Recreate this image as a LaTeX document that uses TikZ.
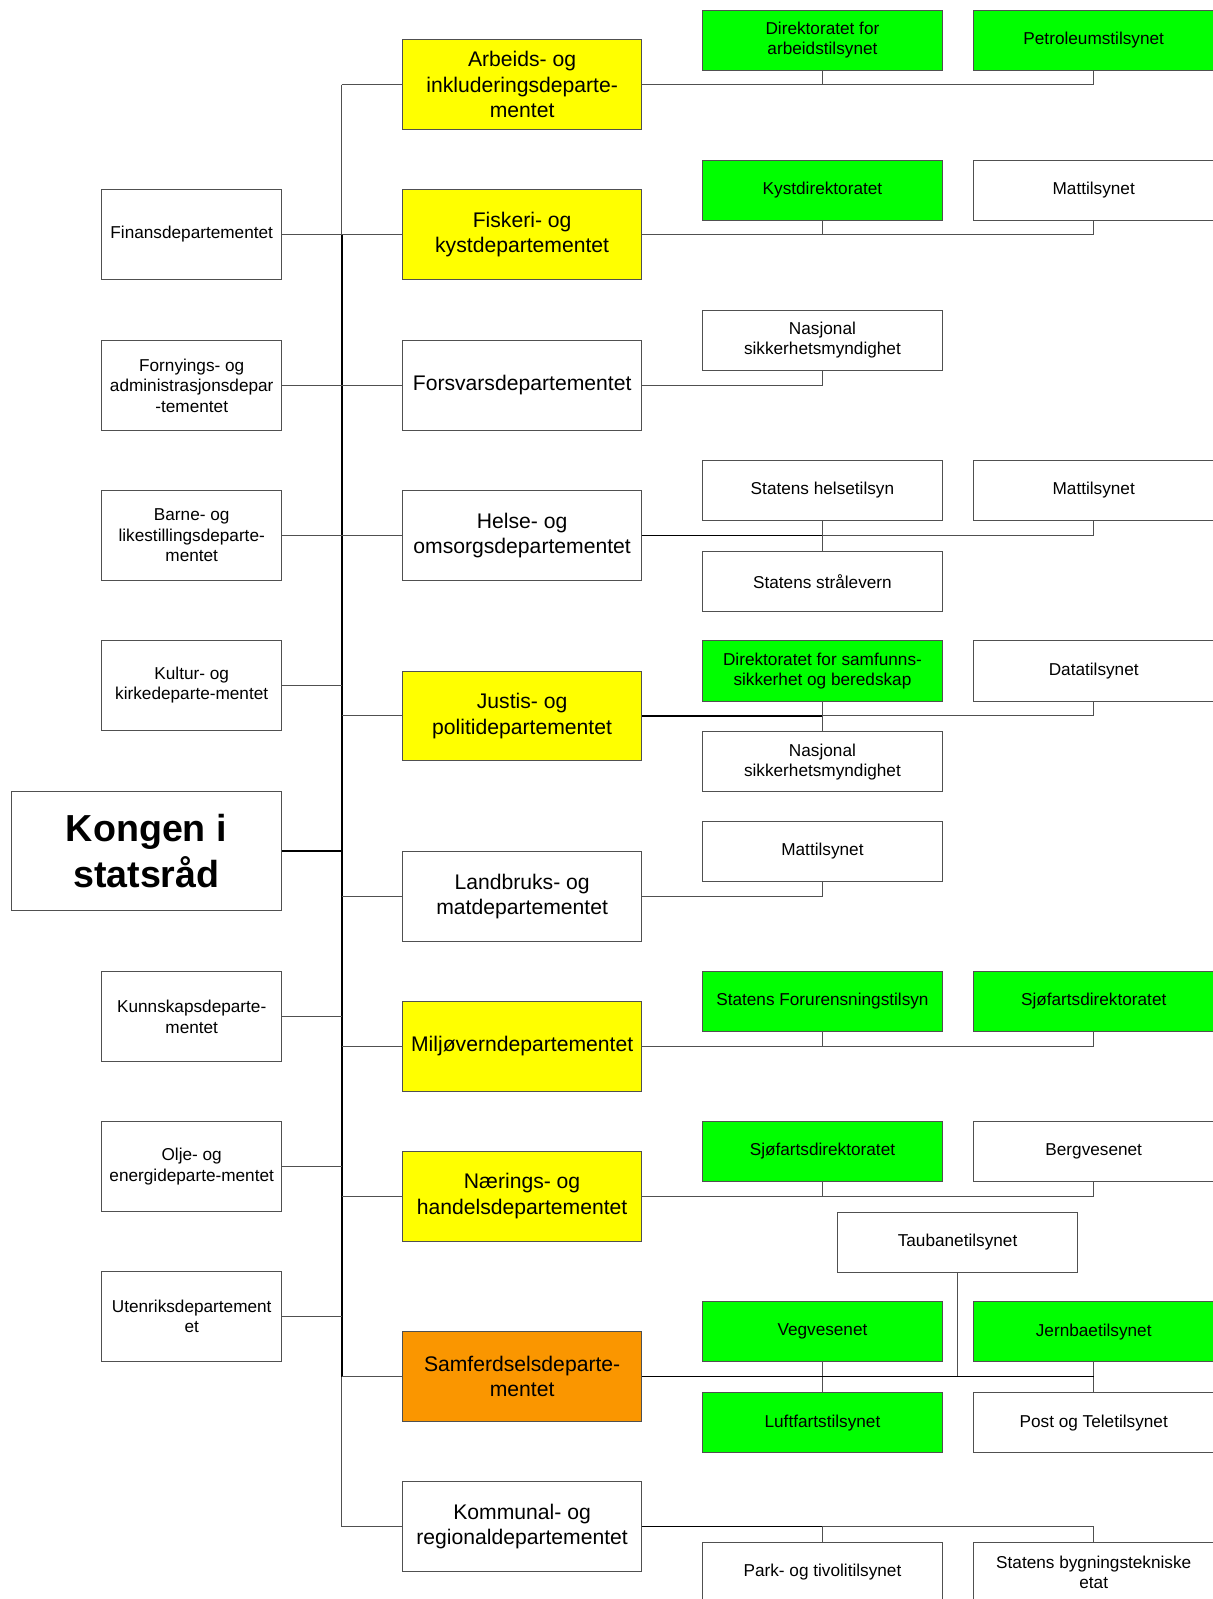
\documentclass[tikz,border=0pt]{standalone}
\usepackage{fontspec}
\setmainfont{Liberation Sans}
\definecolor{yel}{HTML}{FFFF00}
\definecolor{grn}{HTML}{00FF00}
\definecolor{ora}{HTML}{FA9600}
\definecolor{linegray}{HTML}{505050}
\begin{document}
\begin{tikzpicture}
        [x=0.02cm,y=-0.02cm,
         box/.style={draw=linegray, inner sep=0pt, align=center, line width=0.55pt},
         king/.style={box, minimum width=5.3cm, minimum height=2.34cm, font=\fontsize{21}{26}\selectfont\bfseries},
         leftdep/.style={box, minimum width=3.54cm, minimum height=1.76cm, font=\fontsize{9.6}{11.4}\selectfont},
         middep/.style={box, minimum width=4.7cm, minimum height=1.76cm, font=\fontsize{11.8}{14.2}\selectfont},
         etat/.style={box, minimum width=4.72cm, minimum height=1.18cm, font=\fontsize{9.6}{11.1}\selectfont},
         link/.style={draw=linegray, line width=0.55pt},
         strong/.style={draw=black, line width=0.8pt},
         bus/.style={draw=black, line width=1.2pt}]
      \useasboundingbox (0,0) rectangle (1189,1568);

      \node[king] (kong) at (143.5,834.5) {Kongen i\\statsråd};

      % left column
      \node[leftdep] (fin)  at (188,230)  {Finansdepartementet};
      \node[leftdep] (forn) at (188,378)  {Fornyings- og\\administrasjonsdepar\\-tementet};
      \node[leftdep] (barn) at (188,525)  {Barne- og\\likestillingsdeparte-\\mentet};
      \node[leftdep] (kult) at (188,672)  {Kultur- og\\kirkedeparte-mentet};
      \node[leftdep] (kunn) at (188,997)  {Kunnskapsdeparte-\\mentet};
      \node[leftdep] (olje) at (188,1144) {Olje- og\\energideparte-mentet};
      \node[leftdep] (uten) at (188,1291) {Utenriksdepartement\\et};

      % middle column
      \node[middep, fill=yel] (arb)  at (512,83)   {Arbeids- og\\inkluderingsdeparte-\\mentet};
      \node[middep, fill=yel] (fis)  at (512,230)  {Fiskeri- og\\kystdepartementet};
      \node[middep]           (fors) at (512,378)  {Forsvarsdepartementet};
      \node[middep]           (hel)  at (512,525)  {Helse- og\\omsorgsdepartementet};
      \node[middep, fill=yel] (jus)  at (512,702)  {Justis- og\\politidepartementet};
      \node[middep]           (land) at (512,879)  {Landbruks- og\\matdepartementet};
      \node[middep, fill=yel] (milj) at (512,1026) {Miljøverndepartementet};
      \node[middep, fill=yel] (naer) at (512,1173) {Nærings- og\\handelsdepartementet};
      \node[middep, fill=ora] (samf) at (512,1350) {Samferdselsdeparte-\\mentet};
      \node[middep]           (komm) at (512,1497) {Kommunal- og\\regionaldepartementet};

      % agencies
      \node[etat, fill=grn] (arb1)  at (806.5,39.5)     {Direktoratet for\\arbeidstilsynet};
      \node[etat, fill=grn] (arb2)  at (1072.5,39.5)    {Petroleumstilsynet};
      \node[etat, fill=grn] (fis1)  at (806.5,186.5)    {Kystdirektoratet};
      \node[etat]           (fis2)  at (1072.5,186.5)   {Mattilsynet};
      \node[etat]           (fors1) at (806.5,333.5)    {Nasjonal\\sikkerhetsmyndighet};
      \node[etat]           (hel1)  at (806.5,481)  {Statens helsetilsyn};
      \node[etat]           (hel2)  at (1072.5,481) {Mattilsynet};
      \node[etat]           (hel3)  at (806.5,570)  {Statens strålevern};
      \node[etat, fill=grn] (jus1)  at (806.5,658)  {Direktoratet for samfunns-\\sikkerhet og beredskap};
      \node[etat]           (jus2)  at (1072.5,658) {Datatilsynet};
      \node[etat]           (jus3)  at (806.5,747)  {Nasjonal\\sikkerhetsmyndighet};
      \node[etat]           (land1) at (806.5,835)  {Mattilsynet};
      \node[etat, fill=grn] (milj1) at (806.5,982)  {Statens Forurensningstilsyn};
      \node[etat, fill=grn] (milj2) at (1072.5,982) {Sjøfartsdirektoratet};
      \node[etat, fill=grn] (naer1) at (806.5,1129) {Sjøfartsdirektoratet};
      \node[etat]           (naer2) at (1072.5,1129) {Bergvesenet};
      \node[etat]           (samf1) at (939,1218) {Taubanetilsynet};
      \node[etat, fill=grn] (samf2) at (806.5,1306) {Vegvesenet};
      \node[etat, fill=grn] (samf3) at (1072.5,1306) {Jernbaetilsynet};
      \node[etat, fill=grn] (samf4) at (806.5,1395) {Luftfartstilsynet};
      \node[etat]           (samf5) at (1072.5,1395) {Post og Teletilsynet};
      \node[etat]           (komm1) at (806.5,1542) {Park- og tivolitilsynet};
      \node[etat]           (komm2) at (1072.5,1542) {Statens bygningstekniske\\etat};

      % the bus
      \coordinate (bustop) at (335,83);
      \coordinate (busbot) at (335,1497);
      \draw[link] (bustop) -- (busbot);
      \draw[bus] (fin.east -| bustop) -- (samf.west -| bustop);
      \draw[bus] (kong.east) -- (kong.east -| bustop);

      \foreach \dep in {fin,forn,barn,kult,kunn,olje,uten}
        \draw[link] (\dep.east) -- (\dep.east -| bustop);
      \foreach \dep in {arb,fis,fors,hel,jus,land,milj,naer,samf,komm}
        \draw[link] (\dep.west -| bustop) -- (\dep.west);

      \foreach \from/\to in {arb/arb2, arb/arb1, fis/fis2, fis/fis1,
          fors/fors1, hel/hel2, hel/hel1, hel/hel3,
          jus/jus2, jus/jus1, jus/jus3, land/land1,
          milj/milj2, milj/milj1, naer/naer2, naer/naer1,
          samf/samf3, samf/samf1, samf/samf2, samf/samf5, samf/samf4,
          komm/komm2, komm/komm1}
        \draw[link] (\from.east) -| (\to);
      % darker overlaps
      \foreach \from/\to in {hel/hel1, jus/jus1, samf/samf3, komm/komm1}
        \draw[strong] (\from.east) -- (\from.east -| \to);
    \end{tikzpicture}
\end{document}
